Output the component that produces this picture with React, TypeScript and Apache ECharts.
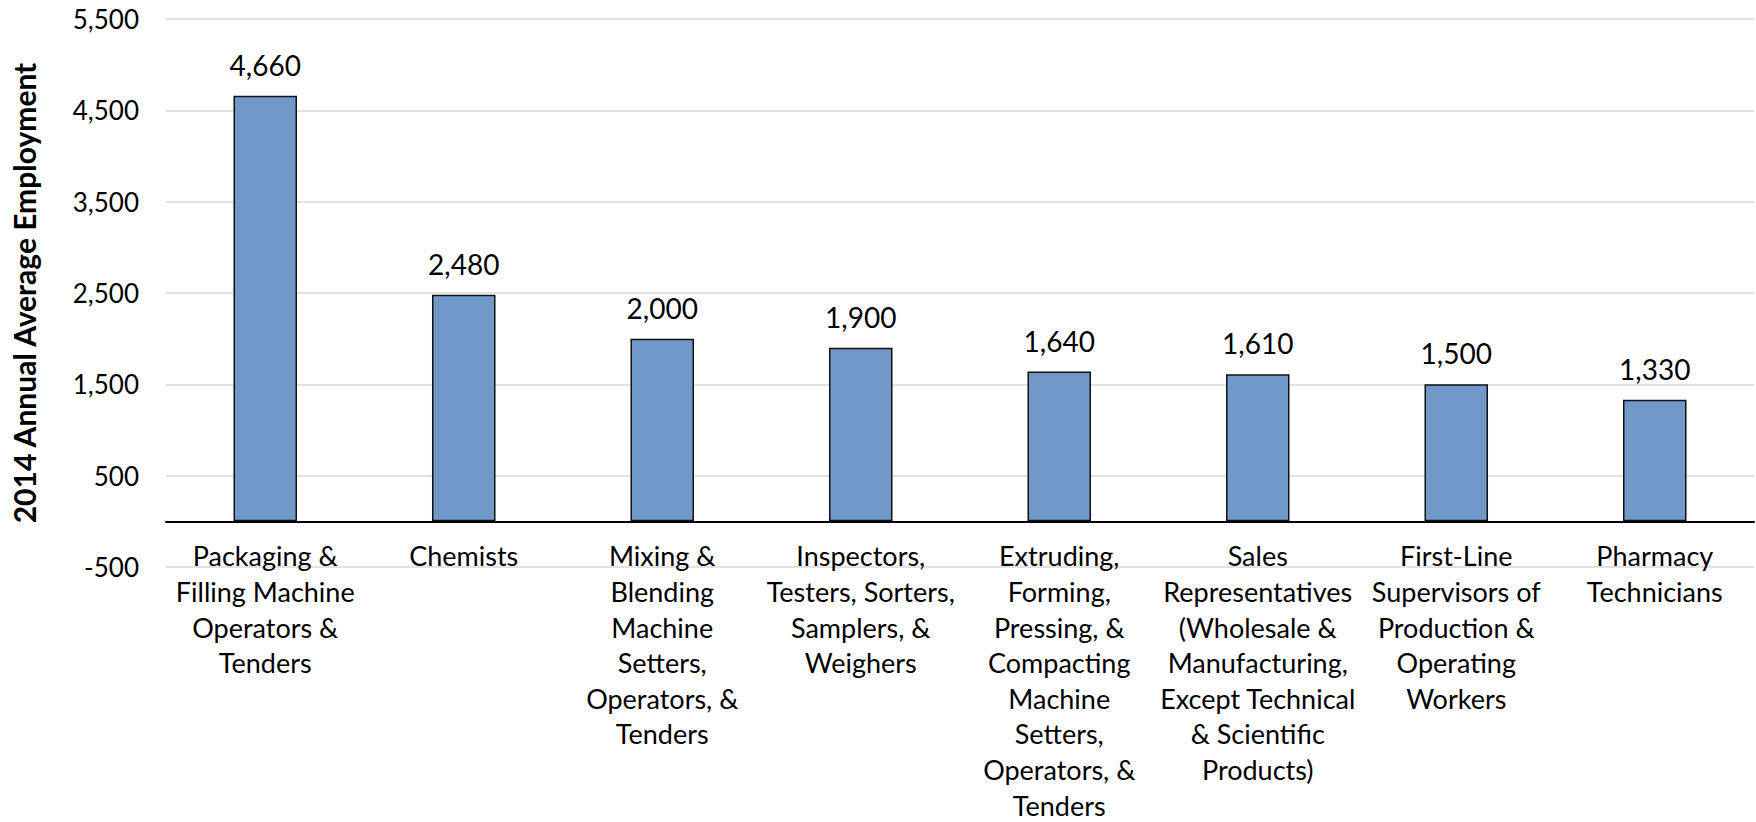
import React, { useEffect, useRef } from "react";
import * as echarts from "echarts";

const categories: string[] = [
  "Packaging &\nFilling Machine\nOperators &\nTenders",
  "Chemists",
  "Mixing &\nBlending\nMachine\nSetters,\nOperators, &\nTenders",
  "Inspectors,\nTesters, Sorters,\nSamplers, &\nWeighers",
  "Extruding,\nForming,\nPressing, &\nCompacting\nMachine\nSetters,\nOperators, &\nTenders",
  "Sales\nRepresentatives\n(Wholesale &\nManufacturing,\nExcept Technical\n& Scientific\nProducts)",
  "First-Line\nSupervisors of\nProduction &\nOperating\nWorkers",
  "Pharmacy\nTechnicians",
];

const employment: number[] = [4660, 2480, 2000, 1900, 1640, 1610, 1500, 1330];

const yMin = -500;
const yMax = 5500;
const yInterval = 1000;
const yAxisTitle = "2014 Annual Average Employment";

const fmt = (v: number) => v.toLocaleString("en-US");

export default function App() {
  const ref = useRef<HTMLDivElement>(null);

  useEffect(() => {
    document.body.style.margin = "0";
    if (!ref.current) return;
    const chart = echarts.init(ref.current, undefined, { renderer: "svg" });
    chart.setOption({
      animation: false,
      backgroundColor: "#ffffff",
      grid: {
        left: 166,
        right: 2,
        top: 19,
        bottom: 255,
        containLabel: false,
        outerBoundsMode: "none",
      },
      xAxis: {
        type: "category",
        data: categories,
        axisLine: { show: true, onZero: true, lineStyle: { color: "#000000", width: 2 } },
        axisTick: { show: false },
        axisLabel: {
          interval: 0,
          color: "#000000",
          fontFamily: "Lato",
          fontSize: 27,
          lineHeight: 35.6,
          margin: -29,
          align: "center",
        },
        splitLine: { show: false },
      },
      yAxis: {
        type: "value",
        min: yMin,
        max: yMax,
        interval: yInterval,
        name: yAxisTitle,
        nameLocation: "middle",
        nameGap: 127,
        nameRotate: 90,
        nameTextStyle: {
          color: "#000000",
          fontFamily: "Lato",
          fontWeight: "bold",
          fontSize: 30,
        },
        axisLine: { show: false },
        axisTick: { show: false },
        axisLabel: {
          color: "#000000",
          fontFamily: "Lato",
          fontSize: 26,
          margin: 27,
          formatter: (v: number) => fmt(v),
        },
        splitLine: { show: true, lineStyle: { color: "#d9d9d9", width: 1.5 } },
      },
      series: [
        {
          type: "bar",
          data: employment,
          barWidth: "32%",
          itemStyle: { color: "#7099CA", borderColor: "#111111", borderWidth: 1.5 },
          label: {
            show: true,
            position: "top",
            distance: 17,
            color: "#000000",
            fontFamily: "Lato",
            fontSize: 28,
            formatter: (p: any) => fmt(p.value),
          },
        },
      ],
    });
    return () => chart.dispose();
  }, []);

  return (
    <div
      ref={ref}
      style={{ position: "absolute", left: 0, top: 0, width: 1756, height: 822 }}
    />
  );
}
